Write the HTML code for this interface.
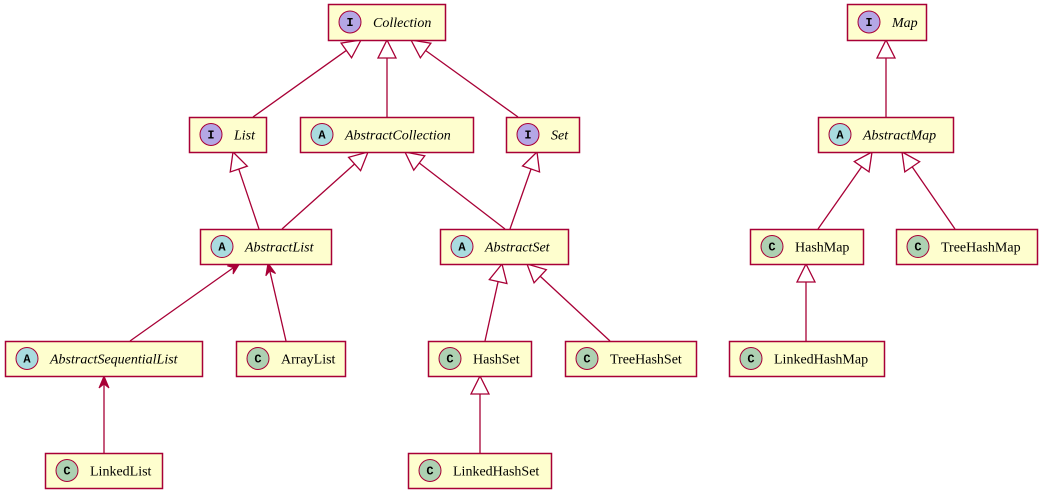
<!DOCTYPE html>
<html><head><meta charset="utf-8"><style>
html,body{margin:0;padding:0;background:#fff;}
svg{display:block;}
text{font-family:"Liberation Serif",serif;font-size:14px;fill:#000;}
.ci{font-family:"Liberation Mono",monospace;font-weight:bold;font-size:12px;}
</style></head><body>
<svg id="s" width="1043" height="493" viewBox="0 0 1043 493" xmlns="http://www.w3.org/2000/svg">
<g id="edges"></g>
<g id="nodes"></g>
</svg>
<script>
const S="#A80036";
const nodes=[
["Collection",328,4,445,40,"I"],
["List",189,117,266,152,"I"],
["AbstractCollection",300,117,473,152,"A"],
["Set",506,117,579,152,"I"],
["AbstractList",200,229,331,264,"A"],
["AbstractSequentialList",5,341,202,376,"A"],
["ArrayList",236,341,345,376,"C"],
["LinkedList",45,453,162,488,"C"],
["AbstractSet",440,229,568,264,"A"],
["HashSet",428,341,531,376,"C"],
["TreeHashSet",565,341,696,376,"C"],
["LinkedHashSet",408,453,551,488,"C"],
["Map",847,4,926,40,"I"],
["AbstractMap",818,117,953,152,"A"],
["HashMap",750,229,863,264,"C"],
["TreeHashMap",896,229,1037,264,"C"],
["LinkedHashMap",729,341,884,376,"C"]];
const col={I:"#B4A7E5",A:"#A9DCDF",C:"#ADD1B2"};
let h="";
for(const [n,x1,y1,x2,y2,k] of nodes){
 const cy=(y1+y2)/2, cx=x1+22;
 h+=`<rect x="${x1+.5}" y="${y1+.5}" width="${x2-x1}" height="${y2-y1}" fill="#FEFECE" stroke="${S}" stroke-width="1.5"/>`;
 h+=`<circle cx="${cx}" cy="${cy}" r="11" fill="${col[k]}" stroke="${S}" stroke-width="1"/>`;
 h+=`<text class="ci" x="${cx}" y="${cy+4}" text-anchor="middle">${k}</text>`;
 h+=`<text x="${cx+23}" y="${cy+5}" ${k!=="C"?'font-style="italic"':''}>${n}</text>`;
}
document.getElementById("nodes").innerHTML=h;
const E=[
[253,117,361,40,"t"],[387,117,387,40,"t"],[518,117,411,40,"t"],
[259,229,233,152,"t"],[282,229,368,152,"t"],[505,229,405,152,"t"],[510,229,537,152,"t"],
[130,341,240,263,"a"],[286,341,268,263,"a"],[104,453,104,376,"a"],
[485,341,502,264,"t"],[610,341,527,264,"t"],[480,453,480,376,"t"],
[886,117,886,40,"t"],[818,229,872,152,"t"],[955,229,902,152,"t"],[806,341,806,264,"t"]];
let g="";
for(const [x1,y1,x2,y2,t] of E){
 const dx=x2-x1,dy=y2-y1,L=Math.hypot(dx,dy),ux=dx/L,uy=dy/L,px=-uy,py=ux;
 if(t==="t"){
  const bx=x2-ux*18,by=y2-uy*18;
  g+=`<line x1="${x1}" y1="${y1}" x2="${bx}" y2="${by}" stroke="${S}" stroke-width="1.3"/>`;
  g+=`<polygon points="${x2},${y2} ${bx+px*9},${by+py*9} ${bx-px*9},${by-py*9}" fill="#fff" stroke="${S}" stroke-width="1.3"/>`;
 }else{
  g+=`<line x1="${x1}" y1="${y1}" x2="${x2-ux*3}" y2="${y2-uy*3}" stroke="${S}" stroke-width="1.3"/>`;
  const bx=x2-ux*12,by=y2-uy*12,nx=x2-ux*8,ny=y2-uy*8;
  g+=`<polygon points="${x2},${y2} ${bx+px*5},${by+py*5} ${nx},${ny} ${bx-px*5},${by-py*5}" fill="${S}" stroke="${S}" stroke-width="1"/>`;
 }
}
document.getElementById("edges").innerHTML=g;
</script>
</body></html>
